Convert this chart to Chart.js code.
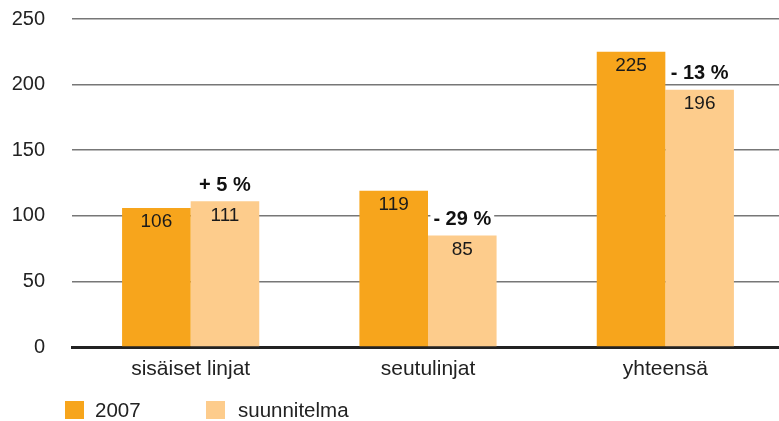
<!DOCTYPE html>
<html>
<head>
<meta charset="utf-8">
<script src="https://cdn.jsdelivr.net/npm/chart.js@4/dist/chart.umd.min.js"></script>
<style>
  html, body { margin: 0; padding: 0; background: #fff; overflow: hidden; }
  #wrap { width: 784px; height: 421px; }
</style>
</head>
<body>
<div id="wrap"><canvas id="kaavio"></canvas></div>
<script>
const kategoriat = ['sisäiset linjat', 'seutulinjat', 'yhteensä'];
const arvot2007 = [106, 119, 225];
const arvotSuunnitelma = [111, 85, 196];
const muutokset = ['+ 5 %', '- 29 %', '- 13 %'];
const yTicks = [0, 50, 100, 150, 200, 250];

const fontti = "'Liberation Sans', Arial, sans-serif";
const oranssi = '#F7A51C';
const vaalea = '#FDCC8C';

// arvot palkkien sisään
const arvoTekstit = {
  id: 'arvoTekstit',
  afterDatasetsDraw(chart) {
    const ctx = chart.ctx;
    ctx.save();
    ctx.font = '19px ' + fontti;
    ctx.fillStyle = '#1a1a1a';
    ctx.textAlign = 'center';
    ctx.textBaseline = 'middle';
    chart.data.datasets.forEach((ds, i) => {
      chart.getDatasetMeta(i).data.forEach((bar, j) => {
        ctx.fillText(ds.data[j], bar.x, bar.y + 14);
      });
    });

    // muutosprosentit vaalean palkin yläpuolelle
    ctx.font = 'bold 20px ' + fontti;
    const meta = chart.getDatasetMeta(1);
    meta.data.forEach((bar, j) => {
      const teksti = muutokset[j];
      const w = ctx.measureText(teksti).width;
      const y = bar.y - 16;
      ctx.fillStyle = '#fff';
      ctx.fillRect(bar.x - w / 2 - 3, y - 10, w + 6, 20);
      ctx.fillStyle = '#111';
      ctx.fillText(teksti, bar.x, y);
    });
    ctx.restore();
  }
};

// selite vasempaan alareunaan
const selite = {
  id: 'selite',
  afterDraw(chart) {
    const ctx = chart.ctx;
    ctx.save();
    ctx.font = '20.5px ' + fontti;
    ctx.textBaseline = 'middle';
    const kohdat = [
      { x: 65, tx: 95, vari: oranssi, teksti: '2007' },
      { x: 206, tx: 238, vari: vaalea, teksti: 'suunnitelma' }
    ];
    kohdat.forEach(k => {
      ctx.fillStyle = k.vari;
      ctx.fillRect(k.x, 401, 19, 18);
      ctx.fillStyle = '#222';
      ctx.fillText(k.teksti, k.tx, 411);
    });
    ctx.restore();
  }
};

new Chart(document.getElementById('kaavio'), {
  type: 'bar',
  data: {
    labels: kategoriat,
    datasets: [
      { label: '2007', data: arvot2007, backgroundColor: oranssi },
      { label: 'suunnitelma', data: arvotSuunnitelma, backgroundColor: vaalea }
    ]
  },
  options: {
    responsive: true,
    maintainAspectRatio: false,
    animation: false,
    layout: { padding: { top: 19, bottom: 28, left: 0, right: 0 } },
    datasets: {
      bar: { barPercentage: 1, categoryPercentage: 0.578 }
    },
    plugins: {
      legend: { display: false },
      tooltip: { enabled: false }
    },
    scales: {
      x: {
        grid: { display: false, drawTicks: false },
        border: { display: true, color: '#222', width: 3 },
        ticks: { color: '#222', font: { family: fontti, size: 21 }, padding: 10 },
        afterFit(s) { s.height = 46; }
      },
      y: {
        min: 0,
        max: 250,
        afterBuildTicks(s) { s.ticks = yTicks.map(v => ({ value: v })); },
        grid: { color: '#777', lineWidth: 1.5, drawTicks: false },
        border: { display: false },
        ticks: { color: '#222', font: { family: fontti, size: 20 }, padding: 27 },
        afterFit(s) { s.width = 72; s.paddingTop = 0; s.paddingBottom = 0; }
      }
    }
  },
  plugins: [arvoTekstit, selite]
});
</script>
</body>
</html>
